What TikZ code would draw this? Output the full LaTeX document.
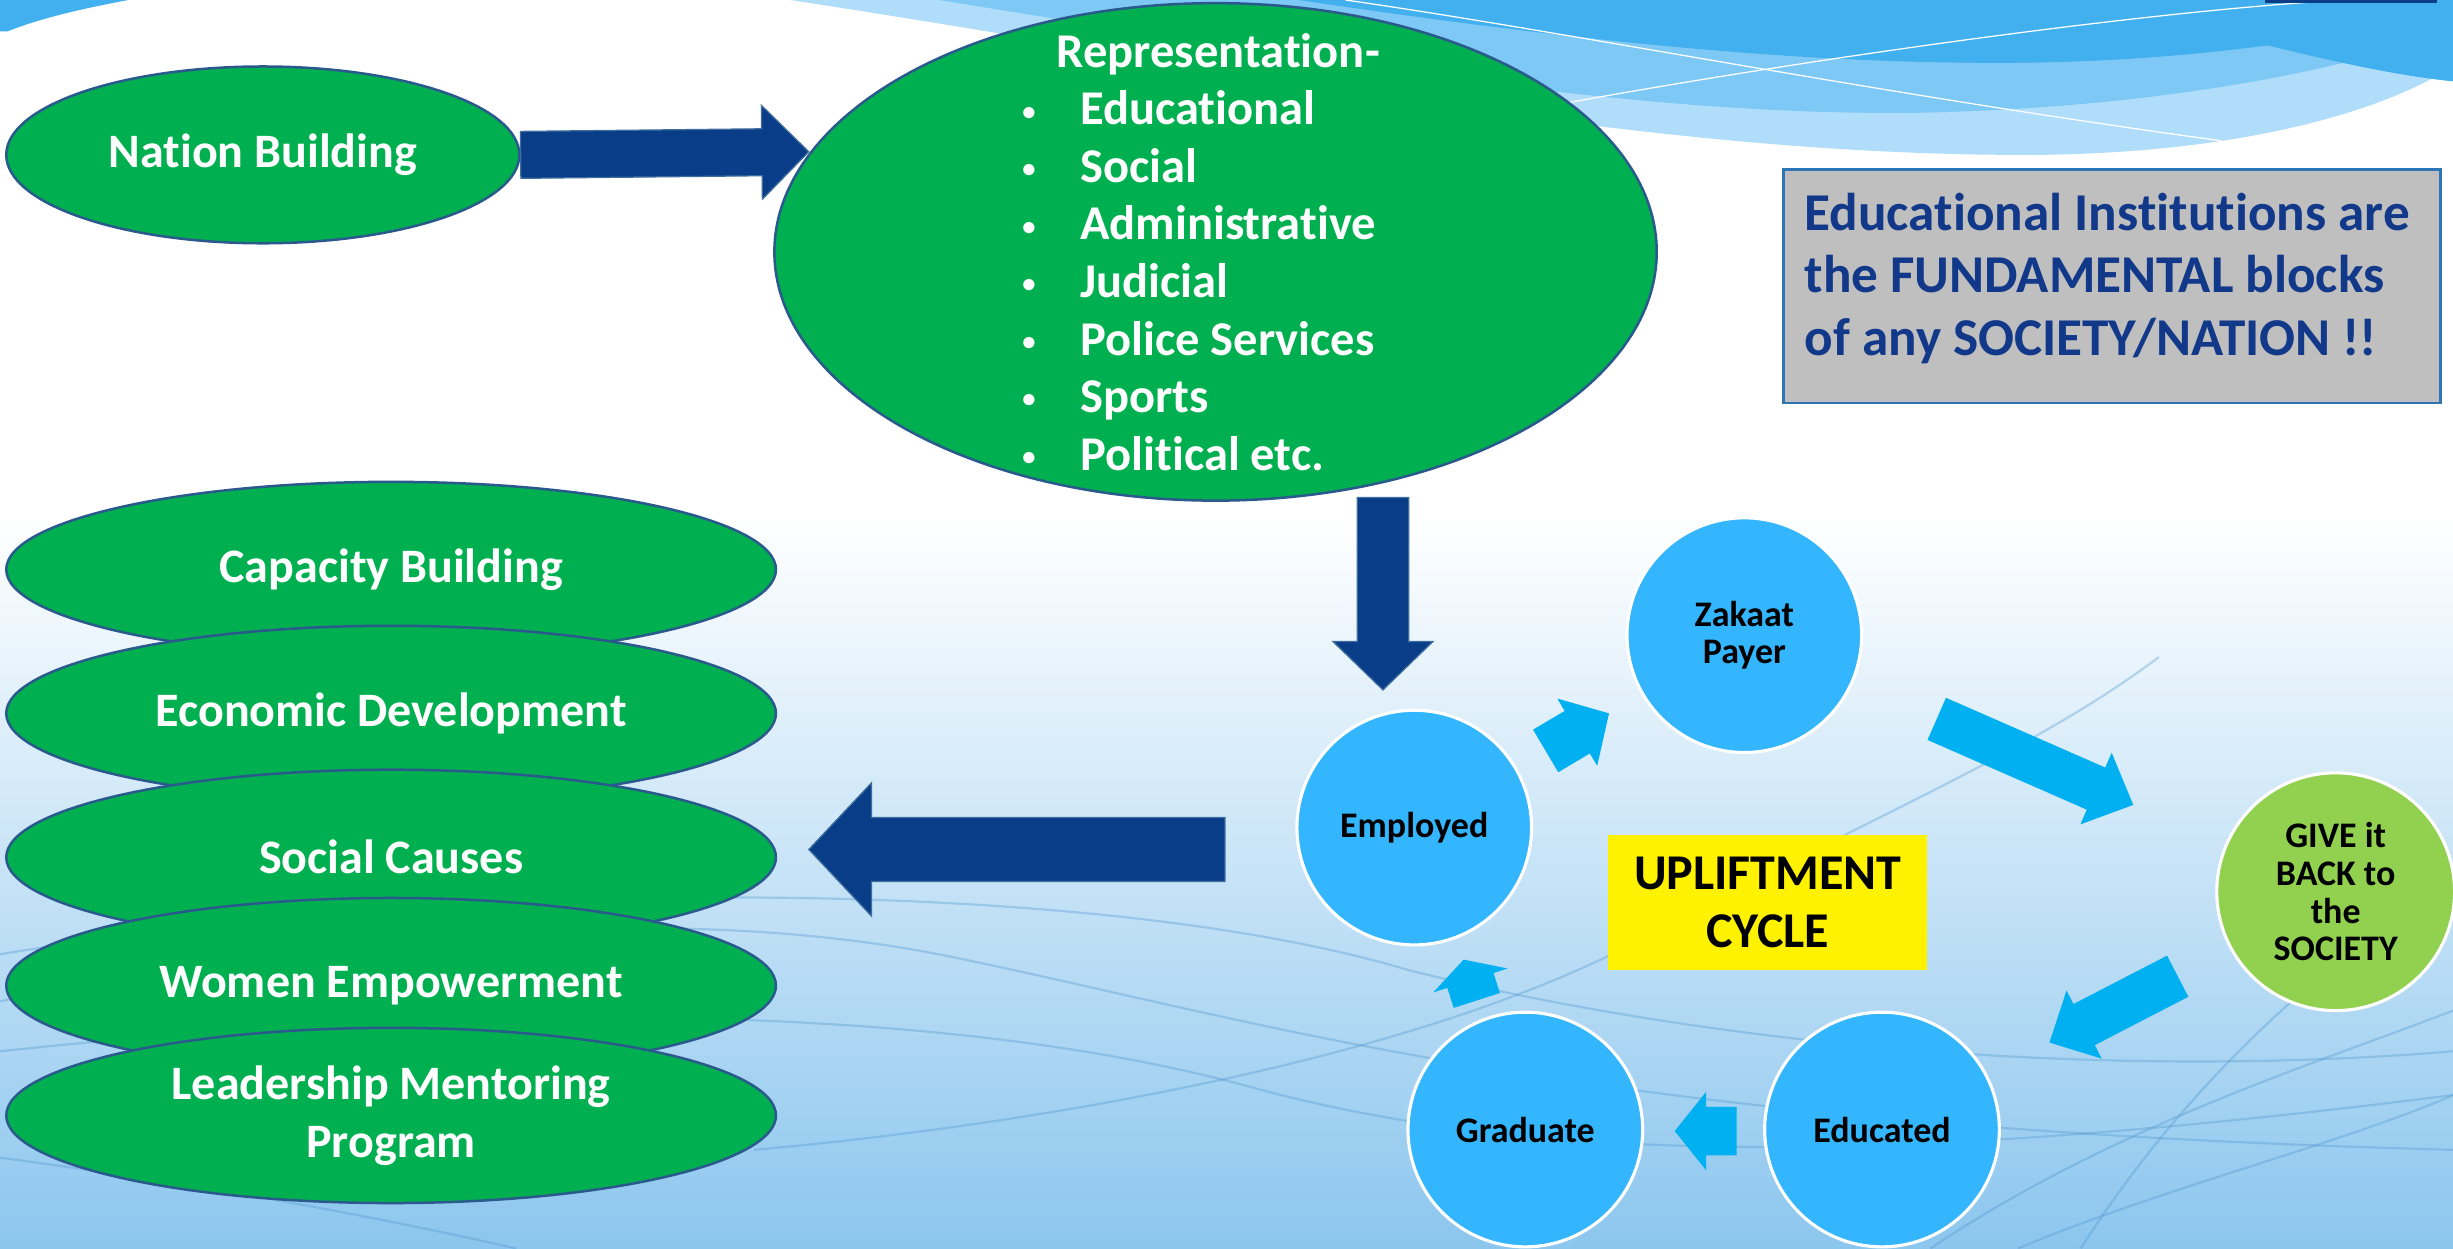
\documentclass[tikz,border=0pt]{standalone}
\usepackage{fontspec}
\setmainfont{Carlito}[Ligatures={NoCommon}]
\usetikzlibrary{shapes.geometric,calc}
\definecolor{grn}{HTML}{00B050}
\definecolor{grnedge}{HTML}{2A5A8C}
\definecolor{navy}{HTML}{0A3D87}
\definecolor{navyedge}{HTML}{3F6E9E}
\definecolor{cyanfill}{HTML}{33B6FD}
\definecolor{arrowcyan}{HTML}{00B0F0}
\definecolor{lime}{HTML}{92D050}
\definecolor{boxgray}{HTML}{BFBFBF}
\definecolor{boxedge}{HTML}{2E75B6}
\definecolor{boxtext}{HTML}{12388A}
\definecolor{bgmid}{HTML}{D9EDFA}
\definecolor{bgbot}{HTML}{8CC6EE}
\definecolor{waveA}{HTML}{B0DEFA}
\definecolor{waveB}{HTML}{7DC8F4}
\definecolor{waveC}{HTML}{42AFEE}
\definecolor{bgline}{HTML}{4F97D0}
\newcommand{\blockarrow}[6]{%
  \path ($(#3)!#6!(#2)$) coordinate (tmpH);
  \filldraw[#1] ($(#2)!#4!90:(#3)$) -- ($(tmpH)!#4!90:(#3)$) -- ($(tmpH)!#5!90:(#3)$) -- (#3)
    -- ($(tmpH)!#5!-90:(#3)$) -- ($(tmpH)!#4!-90:(#3)$) -- ($(#2)!#4!-90:(#3)$) -- cycle;}
\newcommand{\bul}{\makebox[40pt][l]{\hspace*{3pt}\raisebox{3pt}{\fontsize{17}{17}\selectfont •}}}
\begin{document}
\begin{tikzpicture}[x=1pt,y=-1pt,
  greenell/.style={ellipse, fill=grn, draw=grnedge, line width=1.6pt, inner sep=0pt,
    text=white, font=\bfseries\fontsize{30.7}{36}\selectfont, align=center},
  bluecirc/.style={circle, fill=cyanfill, draw=white, line width=2pt, minimum size=150pt,
    inner sep=0pt, font=\bfseries\fontsize{23}{24}\selectfont, align=center},
  navyarrow/.style={fill=navy, draw=navyedge, line width=0.8pt},
  cyanarrow/.style={fill=arrowcyan, draw=none}]
\useasboundingbox (0,0) rectangle (1568,798);
% background
\fill[white] (0,0) rectangle (1568,330);
\shade[top color=white, middle color=bgmid, bottom color=bgbot] (0,330) rectangle (1568,798);
\fill[waveA] (505,0) .. controls (800,45) and (1050,100) .. (1300,99) .. controls (1440,98) and (1530,68) .. (1568,42) -- (1568,0) -- cycle;
\fill[waveB] (600,0) .. controls (850,40) and (1050,75) .. (1230,72) .. controls (1400,68) and (1510,40) .. (1568,20) -- (1568,0) -- cycle;
\fill[waveC] (830,0) .. controls (1000,25) and (1150,42) .. (1300,40) .. controls (1420,38) and (1520,20) .. (1568,5) -- (1568,0) -- cycle;
\fill[waveC] (1330,0) .. controls (1420,20) and (1500,45) .. (1568,52) -- (1568,0) -- cycle;
\draw[white, line width=0.8pt] (860,0) .. controls (1000,20) and (1200,60) .. (1420,90);
\draw[white, line width=0.8pt] (1000,66) .. controls (1200,30) and (1400,5) .. (1500,0);
\fill[waveC] (0,0) -- (82,0) .. controls (50,6) and (25,12) .. (5,20) -- (0,20) -- cycle;
\fill[navy] (1448,0) rectangle (1558,2);
\begin{scope}[bgline, line width=1.4pt, opacity=0.35]
\draw (0,640) .. controls (200,600) and (420,575) .. (600,610) .. controls (800,650) and (1000,720) .. (1568,735);
\draw (0,672) .. controls (300,640) and (600,640) .. (800,695) .. controls (1000,750) and (1250,740) .. (1568,700);
\draw (0,610) .. controls (300,560) and (700,560) .. (900,620) .. controls (1100,670) and (1350,690) .. (1568,672);
\draw (482,735) .. controls (650,720) and (900,680) .. (1050,600) .. controls (1200,520) and (1300,480) .. (1380,420);
\draw (1234,798) .. controls (1350,720) and (1480,680) .. (1568,646);
\draw (1290,798) .. controls (1380,760) and (1500,730) .. (1568,700);
\draw (1568,560) .. controls (1450,640) and (1380,720) .. (1330,798);
\draw (0,740) .. controls (150,760) and (250,780) .. (330,798);
\end{scope}
% top nodes
\node[greenell, minimum width=328pt, minimum height=113pt] (nation) at (168,99) {Nation Building};
\node[greenell, minimum width=564pt, minimum height=318pt] (rep) at (777,161) {};
\node[anchor=west, text=white, font=\bfseries\fontsize{31}{36.8}\selectfont, align=left] (reptext) at (647,161)
 {\hspace*{25pt}Representation-\\
  \bul Educational\\
  \bul Social\\
  \bul Administrative\\
  \bul Judicial\\
  \bul Police Services\\
  \bul Sports\\
  \bul Political etc.};
\coordinate (a1t) at (517,97);
\blockarrow{navyarrow}{nation.east}{a1t}{15pt}{30pt}{30pt}
% gray box
\node[draw=boxedge, line width=1.6pt, fill=boxgray, minimum width=420pt, minimum height=149pt] (gbox) at (1350,183) {};
\node[anchor=west, text=boxtext, align=left, font=\bfseries\fontsize{34}{40}\selectfont] (gtext) at (1150,178)
 {Educational Institutions are\\the FUNDAMENTAL blocks\\of any SOCIETY/NATION !!};
% left ellipses
\node[greenell, minimum width=492pt, minimum height=112pt] (cap) at (250,364) {Capacity Building};
\node[greenell, minimum width=492pt, minimum height=112pt] (eco) at (250,456) {Economic Development};
\node[greenell, minimum width=492pt, minimum height=112pt] (soc) at (250,548) {Social Causes};
\node[greenell, minimum width=492pt, minimum height=112pt] (wom) at (250,630) {Women Empowerment};
\node[greenell, minimum width=492pt, minimum height=112pt, font=\bfseries\fontsize{30.7}{37}\selectfont] (lead) at (250,713) {Leadership Mentoring\\Program};
% cycle circles
\node[bluecirc] (emp) at (904,529) {Employed};
\node[bluecirc] (zak) at (1115,406) {Zakaat\\Payer};
\node[bluecirc, fill=lime, minimum size=152pt] (give) at (1493,570) {GIVE it\\BACK to\\the\\SOCIETY};
\node[bluecirc] (edu) at (1203,722) {Educated};
\node[bluecirc] (grad) at (975,722) {Graduate};
\node[fill=yellow, minimum width=204pt, minimum height=86pt, align=center, font=\bfseries\fontsize{32}{37}\selectfont] (up) at (1130,577) {UPLIFTMENT\\CYCLE};
% big navy arrows
\coordinate (a2s) at (884,318);
\coordinate (a2t) at (884,441);
\blockarrow{navyarrow}{a2s}{a2t}{16.5pt}{32pt}{31pt}
\coordinate (a3s) at (783,543);
\coordinate (a3t) at (517,543);
\blockarrow{navyarrow}{a3s}{a3t}{20.5pt}{42.5pt}{40pt}
% cycle arrows
\coordinate (c1s) at (988,480);
\coordinate (c1t) at (1028.5,456);
\blockarrow{cyanarrow}{c1s}{c1t}{15.8pt}{25pt}{23.6pt}
\coordinate (c2s) at (1238,459.5);
\coordinate (c2t) at (1363.6,514.5);
\blockarrow{cyanarrow}{c2s}{c2t}{14.7pt}{25pt}{26pt}
\coordinate (c3s) at (1392,624);
\coordinate (c3t) at (1310,666.4);
\blockarrow{cyanarrow}{c3s}{c3t}{14.8pt}{24.5pt}{25pt}
\coordinate (c4s) at (1110,723);
\coordinate (c4t) at (1070.5,723);
\blockarrow{cyanarrow}{c4s}{c4t}{15.5pt}{25pt}{20pt}
\coordinate (c5s) at (944,639.5);
\coordinate (c5t) at (935.6,613.4);
\blockarrow{cyanarrow}{c5s}{c5t}{15.5pt}{25pt}{14pt}
\end{tikzpicture}
\end{document}
